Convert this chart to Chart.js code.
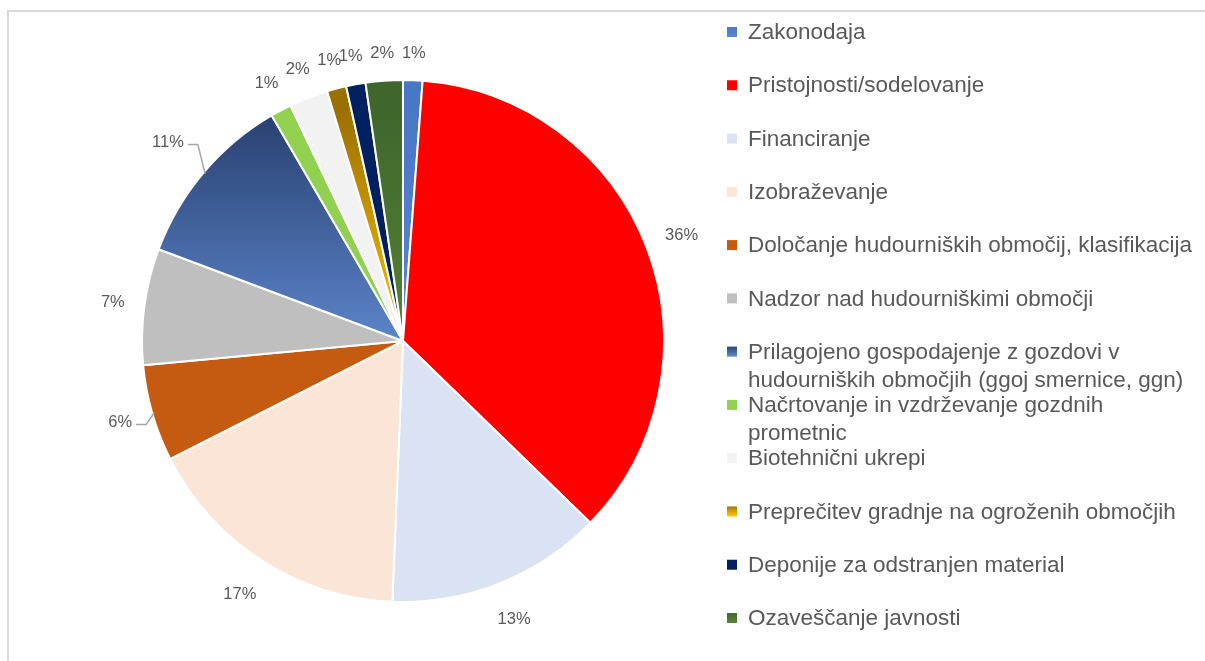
<!DOCTYPE html>
<html lang="sl">
<head>
    <meta charset="UTF-8">
    <title>Ukrepi</title>
    <script src="https://cdn.jsdelivr.net/npm/chart.js"></script>
    <style>
        body { margin: 0; background: #ffffff; overflow: hidden; }
        .frame { position: absolute; left: 7px; top: 10px; width: 1300px; height: 700px; border: 2px solid #d9d9d9; }
        .wrap { position: absolute; left: 0; top: 0; width: 1205px; height: 661px; }
    </style>
</head>
<body>
    <div class="frame"></div>
    <div class="wrap"><canvas id="pieChart"></canvas></div>

    <script>
        // kategorije in deleži (%)
        const categories = [
            "Zakonodaja",
            "Pristojnosti/sodelovanje",
            "Financiranje",
            "Izobraževanje",
            "Določanje hudourniških območij, klasifikacija",
            "Nadzor nad hudourniškimi območji",
            "Prilagojeno gospodajenje z gozdovi v hudourniških območjih (ggoj smernice, ggn)",
            "Načrtovanje in vzdrževanje gozdnih prometnic",
            "Biotehnični ukrepi",
            "Preprečitev gradnje na ogroženih območjih",
            "Deponije za odstranjen material",
            "Ozaveščanje javnosti"
        ];
        const shares = [1.2, 36.1, 13.4, 16.9, 6.0, 7.2, 10.9, 1.3, 2.4, 1.2, 1.2, 2.3];

        // barve (zgoraj / spodaj za preliv)
        const colorsTop = ["#4a76c6", "#ff0000", "#dae3f3", "#fbe5d6", "#c55a11", "#bfbfbf",
                           "#283f6f", "#92d050", "#f2f2f2", "#9a7000", "#002060", "#3f662c"];
        const colorsBottom = ["#5a86d2", "#ff0000", "#dae3f3", "#fbe5d6", "#c55a11", "#bfbfbf",
                              "#5b84c9", "#92d050", "#f2f2f2", "#ffc000", "#002060", "#548235"];
        // rezine z vodilno črto in razmik oznake
        const leaderGap = { 4: 20, 6: 30 };

        const FONT = '"Liberation Sans", Arial, sans-serif';
        const total = shares.reduce((a, b) => a + b, 0);

        function sliceColor(ctx) {
            const i = ctx.dataIndex;
            const area = ctx.chart.chartArea;
            if (!area || colorsTop[i] === colorsBottom[i]) return colorsTop[i];
            const g = ctx.chart.ctx.createLinearGradient(0, area.top + 30, 0, (area.top + area.bottom) / 2);
            g.addColorStop(0, colorsTop[i]);
            g.addColorStop(1, colorsBottom[i]);
            return g;
        }

        // procenti ob rezinah
        const pctLabels = {
            id: "pctLabels",
            afterDatasetsDraw(chart) {
                const ctx = chart.ctx;
                const meta = chart.getDatasetMeta(0);
                ctx.save();
                ctx.font = "16.5px " + FONT;
                ctx.fillStyle = "#595959";
                ctx.textAlign = "center";
                ctx.textBaseline = "middle";
                meta.data.forEach((arc, i) => {
                    const txt = Math.round(shares[i] / total * 100) + "%";
                    const w = ctx.measureText(txt).width;
                    const h = 14;
                    const mid = (arc.startAngle + arc.endAngle) / 2;
                    const c = Math.cos(mid), s = Math.sin(mid);
                    const lead = i in leaderGap;
                    const gap = lead ? leaderGap[i] : (s > 0.3 ? 26 : 19);
                    const off = gap + Math.abs(s) * h / 2 + Math.abs(c) * w / 2;
                    const r = arc.outerRadius + off;
                    const lx = arc.x + c * r;
                    const ly = arc.y + s * r;
                    ctx.fillText(txt, lx, ly);
                    if (lead) {
                        const ex = arc.x + c * (arc.outerRadius - 2);
                        const ey = arc.y + s * (arc.outerRadius - 2);
                        const sx = lx + w / 2 + 4;
                        ctx.strokeStyle = "#a6a6a6";
                        ctx.lineWidth = 1.5;
                        ctx.beginPath();
                        ctx.moveTo(sx, ly + 2);
                        ctx.lineTo(sx + 10, ly + 2);
                        ctx.lineTo(ex, ey);
                        ctx.stroke();
                    }
                });
                ctx.restore();
            }
        };

        // legenda desno, z prelomom vrstic
        const sideLegend = {
            id: "sideLegend",
            afterDraw(chart) {
                const ctx = chart.ctx;
                const x0 = 727, tx = 748, maxW = 455;
                const top = 31, step = (617 - 31) / 11, lineH = 28;
                ctx.save();
                ctx.font = "22.5px " + FONT;
                ctx.textBaseline = "middle";
                categories.forEach((name, i) => {
                    const y = top + step * i;
                    const g = ctx.createLinearGradient(0, y - 5, 0, y + 5);
                    g.addColorStop(0, colorsTop[i]);
                    g.addColorStop(1, colorsBottom[i]);
                    ctx.fillStyle = g;
                    ctx.fillRect(x0, y - 4, 10, 10);
                    // prelom
                    const words = name.split(" ");
                    const lines = [];
                    let cur = "";
                    words.forEach(wd => {
                        const t = cur ? cur + " " + wd : wd;
                        if (ctx.measureText(t).width > maxW && cur) {
                            lines.push(cur);
                            cur = wd;
                        } else {
                            cur = t;
                        }
                    });
                    lines.push(cur);
                    ctx.fillStyle = "#595959";
                    lines.forEach((ln, k) => ctx.fillText(ln, tx, y + 2 + k * lineH));
                });
                ctx.restore();
            }
        };

        new Chart(document.getElementById("pieChart"), {
            type: "pie",
            data: {
                labels: categories,
                datasets: [{
                    data: shares,
                    backgroundColor: sliceColor,
                    borderColor: "#ffffff",
                    borderWidth: 2
                }]
            },
            options: {
                responsive: true,
                maintainAspectRatio: false,
                animation: false,
                layout: { padding: { left: 141, right: 540, top: 79, bottom: 58 } },
                plugins: {
                    legend: { display: false },
                    tooltip: { enabled: false }
                }
            },
            plugins: [pctLabels, sideLegend]
        });
    </script>
</body>
</html>
